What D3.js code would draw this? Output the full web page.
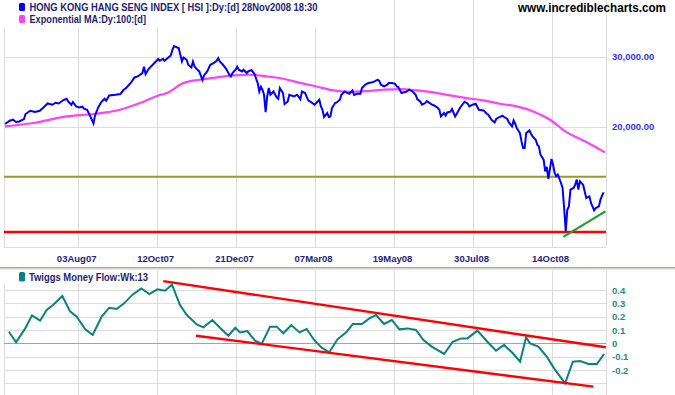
<!DOCTYPE html>
<html><head><meta charset="utf-8">
<script src="https://cdn.jsdelivr.net/npm/d3@7"></script>
<style>body{margin:0;background:#fff;} svg{display:block;font-family:"Liberation Sans",Arial,sans-serif;}</style>
</head><body><svg id="c" width="675" height="395"></svg>
<script>
// ---- data (trading-day index from start of chart) ----
const tickDays = [46, 96, 146, 196, 246, 296, 346];
const tickLabels = ["03Aug07", "12Oct07", "21Dec07", "07Mar08", "19May08", "30Jul08", "14Oct08"];
const priceTicks = [20000, 30000];
const tmfTicks = [-0.2, -0.1, 0, 0.1, 0.2, 0.3, 0.4];
const tmfGrid = [-0.3, -0.2, -0.1, 0.1, 0.2, 0.3, 0.4];

const priceDays = [0,3,5,7,9,12,13,16,19,22,24,27,30,32,34,37,39,40,42,43,45,47,49,50,52,54,56,57,59,61,63,64,66,70,73,75,77,80,82,84,87,88,89,91,94,96,97,98,100,101,103,105,106,107,109,110,111,112,113,115,116,118,119,120,122,123,125,126,128,130,132,134,135,136,138,140,142,143,144,146,147,148,150,151,153,154,156,158,159,160,161,162,163,164,165,166,167,168,170,172,173,174,176,177,179,180,183,185,187,188,190,192,194,196,197,199,200,201,202,204,205,206,207,209,210,212,213,215,216,218,220,221,223,225,226,228,230,232,234,236,237,238,240,242,243,245,247,248,249,251,252,254,256,258,260,261,263,264,266,267,269,270,272,274,275,276,278,279,280,282,283,285,286,288,289,291,293,294,296,298,300,303,305,306,308,310,311,313,315,316,318,319,321,322,323,324,326,327,328,329,330,332,333,334,336,337,338,339,341,342,343,344,345,346,347,348,349,350,352,353,354,355,356,357,358,360,361,362,363,364,366,367,368,370,371,373,374,376,377,378,379];
const priceValues = [20337,20729,20848,20574,20645,20932,21545,21958,21794,21958,22303,22902,22732,22997,22902,23356,23532,23170,22732,23089,22510,22382,22472,22214,22086,21249,20408,21371,22382,23089,23532,23263,23986,24083,24180,24745,25119,25913,26611,26764,27293,28305,27138,27979,28747,29301,29590,29301,29641,29301,29760,30210,31220,31892,31635,31525,30334,29181,29862,29469,28632,28190,29181,28354,27770,27549,26215,26917,27549,28632,28914,29301,29760,29181,28632,27979,27025,26764,27293,27818,28305,27818,27549,27818,27293,27549,27770,27138,26409,25766,24544,25220,24787,24083,21794,23848,25031,24083,24544,23710,23532,25031,24318,22824,23170,24083,23848,24083,23470,24544,24318,23302,23036,22732,22955,23397,22510,22086,21175,21670,21175,21249,22303,22955,23036,23397,24083,24544,24403,24221,24686,24040,24221,24221,25031,25513,25766,25854,26004,26260,26064,25513,25262,25513,25766,25766,25657,25262,25174,24318,24403,24501,24787,24544,24083,23491,23128,22732,22955,23223,22955,22772,22602,22303,22086,21249,21670,21334,21744,21833,22175,21249,21582,22303,22602,23128,22864,22510,22732,22864,22086,21997,21582,21458,20848,20527,20932,21175,21334,21175,20932,20527,20058,20764,20373,19874,19309,18396,17708,17708,19309,19600,19231,18933,18577,18048,17872,17038,16552,15476,15873,14812,15692,16620,16082,15333,15036,15184,14471,14059,12524,10950,12402,12642,13922,14059,14330,14753,13922,14609,14330,13787,13273,13396,12896,12356,12524,12642,13143,13447,13707];

const emaDays = [0,17.9,39.1,55.9,72.8,85.5,97.1,102.4,112.9,123.5,134.1,144.6,155.1,165.7,176.2,186.8,197.4,207.9,218.5,229.1,239.5,250.1,260.7,271.2,281.8,292.3,302.9,313.4,324,334.5,345.1,355.7,366.2,379.9];
const emaValues = [20058,20455,21249,21545,22086,22955,23986,24318,25766,26260,26611,26917,27025,26764,26409,25779,25262,24686,24501,24600,24787,24888,24686,24403,23986,23627,23302,22864,22510,21870,20848,19376,18501,17266];

const resistanceLevel = 15000;
const supportLevel = 10900;
const greenTrendDays = [353.5, 380.1];
const greenTrendValues = [10600, 12286];

const tmfDays = [2.5,7,12.7,17.1,22.2,26.4,30.6,36.3,41.2,45.4,50.7,55.5,61.2,66,70.7,75.4,80.9,86.3,91.4,96.4,101.3,105.7,110.8,115.1,121.4,125.6,131.3,136.1,141.4,145.8,148.8,153.4,158.3,162.5,167.8,172,176.2,181.3,186.4,191,195.7,200.5,205.3,210.5,216.4,220.2,225.9,230.7,234.9,240,244.9,249.7,254.7,260.2,264.9,270.2,278,283.5,288.7,292.7,299.1,305.4,310.9,316,321.5,326.1,329.9,332.4,337.7,343,348.3,354.6,359.5,364.1,369.4,374.7,379.3];
const tmfValues = [0.087,0.008,0.11,0.21,0.17,0.25,0.29,0.355,0.24,0.2,0.107,0.062,0.2,0.267,0.257,0.3,0.367,0.412,0.37,0.405,0.395,0.44,0.287,0.212,0.142,0.12,0.175,0.117,0.057,0.117,0.082,0.092,0.02,-0.005,0.125,0.125,0.075,0.137,0.082,0.107,0.025,-0.033,-0.067,0.03,0.087,0.145,0.145,0.187,0.212,0.145,0.175,0.105,0.112,0.1,0.025,-0.025,-0.08,0.012,0.037,0.037,0.095,0.012,-0.055,-0.012,-0.075,-0.138,0.045,0,-0.025,-0.1,-0.2,-0.3,-0.138,-0.133,-0.155,-0.155,-0.08];

const tmfUpperDays = [100.2, 380.4];
const tmfUpperValues = [0.467, -0.03];
const tmfLowerDays = [120.9, 372.5];
const tmfLowerValues = [0.057, -0.325];

// ---- layout ----
const svg = d3.select("#c");
const L = 4, R = 606;
const mainTop = 0, mainBot = 247;
const lowTop = 270.5, lowBot = 395;
const FONT = '"Liberation Sans", Arial, sans-serif';

const x = d3.scaleLinear().domain([-0.633, 380.5]).range([L, R]);
const y = d3.scaleLog().domain([10000, 35400]).range([mainBot, 28]);
const yL = d3.scaleLinear().domain([-0.3, 0.4]).range([383.3, 290]);

svg.append("rect").attr("width", 675).attr("height", 395).attr("fill", "#fff");

const defs = svg.append("defs");
defs.append("clipPath").attr("id", "cm").append("rect").attr("x", L).attr("y", mainTop).attr("width", R - L).attr("height", mainBot - mainTop);
defs.append("clipPath").attr("id", "cl").append("rect").attr("x", L).attr("y", lowTop).attr("width", R - L).attr("height", lowBot - lowTop);

const GRID = "#dcdcdc";

// ---- main panel grid ----
const gMain = svg.append("g");
gMain.selectAll("line.vg").data([0, ...tickDays]).enter().append("line")
  .attr("x1", (d, i) => i === 0 ? L + 0.5 : Math.round(x(d)) + 0.5)
  .attr("x2", (d, i) => i === 0 ? L + 0.5 : Math.round(x(d)) + 0.5)
  .attr("y1", mainTop).attr("y2", mainBot).attr("stroke", GRID).attr("stroke-width", 1);
gMain.append("line").attr("x1", R + 0.5).attr("x2", R + 0.5).attr("y1", mainTop).attr("y2", mainBot).attr("stroke", GRID);
gMain.selectAll("line.hg").data([10000, ...priceTicks]).enter().append("line")
  .attr("x1", L).attr("x2", R).attr("y1", d => Math.round(y(d)) + 0.5).attr("y2", d => Math.round(y(d)) + 0.5)
  .attr("stroke", GRID).attr("stroke-width", 1);

// ---- lower panel grid ----
const gLow = svg.append("g");
gLow.selectAll("line.vg").data(tickDays).enter().append("line")
  .attr("x1", d => Math.round(x(d)) + 0.5).attr("x2", d => Math.round(x(d)) + 0.5)
  .attr("y1", lowTop).attr("y2", lowBot).attr("stroke", GRID);
gLow.append("line").attr("x1", L + 0.5).attr("x2", L + 0.5).attr("y1", lowTop).attr("y2", lowBot).attr("stroke", GRID);
gLow.append("line").attr("x1", R + 0.5).attr("x2", R + 0.5).attr("y1", lowTop).attr("y2", lowBot).attr("stroke", GRID);
gLow.selectAll("line.hg").data(tmfGrid).enter().append("line")
  .attr("x1", L).attr("x2", R).attr("y1", d => Math.round(yL(d)) + 0.5).attr("y2", d => Math.round(yL(d)) + 0.5)
  .attr("stroke", GRID);
gLow.append("line").attr("x1", L).attr("x2", R).attr("y1", Math.round(yL(0)) + 0.5).attr("y2", Math.round(yL(0)) + 0.5)
  .attr("stroke", "#9c9cd4").attr("stroke-width", 1);

// ---- main panel series ----
const cm = svg.append("g").attr("clip-path", "url(#cm)");
const ema = emaDays.map((d, i) => [d, emaValues[i]]);
cm.append("path").datum(ema).attr("fill", "none").attr("stroke", "#ff40ff").attr("stroke-width", 2.2)
  .attr("d", d3.line().x(d => x(d[0])).y(d => y(d[1])).curve(d3.curveMonotoneX));

cm.append("line").attr("x1", L).attr("x2", R).attr("y1", y(resistanceLevel)).attr("y2", y(resistanceLevel))
  .attr("stroke", "#999933").attr("stroke-width", 2.2);
cm.append("line").attr("x1", L).attr("x2", R).attr("y1", y(supportLevel)).attr("y2", y(supportLevel))
  .attr("stroke", "#ff0000").attr("stroke-width", 2.6);

const price = priceDays.map((d, i) => [d, priceValues[i]]);
cm.append("path").datum(price).attr("fill", "none").attr("stroke", "#0000ff").attr("stroke-width", 2)
  .attr("stroke-linejoin", "miter")
  .attr("d", d3.line().x(d => x(d[0])).y(d => y(d[1])));

const green = greenTrendDays.map((d, i) => [d, greenTrendValues[i]]);
cm.append("path").datum(green).attr("fill", "none").attr("stroke", "#1f9a35").attr("stroke-width", 2.2)
  .attr("d", d3.line().x(d => x(d[0])).y(d => y(d[1])));

// ---- lower panel series ----
const cl = svg.append("g").attr("clip-path", "url(#cl)");
const tmf = tmfDays.map((d, i) => [d, tmfValues[i]]);
cl.append("path").datum(tmf).attr("fill", "none").attr("stroke", "#0a8080").attr("stroke-width", 2)
  .attr("d", d3.line().x(d => x(d[0])).y(d => yL(d[1])));
[[tmfUpperDays, tmfUpperValues], [tmfLowerDays, tmfLowerValues]].forEach(([ds, vs]) => {
  cl.append("path").datum(ds.map((d, i) => [d, vs[i]])).attr("fill", "none").attr("stroke", "#ff0000").attr("stroke-width", 2.4)
    .attr("d", d3.line().x(d => x(d[0])).y(d => yL(d[1])));
});

// ---- legends ----
svg.append("rect").attr("x", 0).attr("y", 0).attr("width", 326).attr("height", 27.5).attr("fill", "#fff");
svg.append("rect").attr("x", 0).attr("y", 270.5).attr("width", 153).attr("height", 13).attr("fill", "#fff");

function legend(yIcon, hIcon, color, text, tx, ty, len) {
  svg.append("rect").attr("x", 19).attr("y", yIcon).attr("width", 6).attr("height", hIcon).attr("rx", 1.5)
    .attr("fill", color);
  svg.append("text").attr("x", tx).attr("y", ty).attr("fill", "#1e1e78").attr("font-size", 10.5)
    .attr("font-weight", "bold").attr("font-family", FONT)
    .attr("textLength", len).attr("lengthAdjust", "spacingAndGlyphs").text(text);
}
legend(3, 8, "#0000ff", "HONG KONG HANG SENG INDEX [ HSI ]:Dy:[d]  28Nov2008 18:30", 29.5, 11, 288);
legend(15, 8, "#ff40ff", "Exponential MA:Dy:100:[d]", 29.5, 22.5, 116.5);
legend(272, 9.5, "#0a8080", "Twiggs Money Flow:Wk:13", 29, 280.5, 119);

svg.append("text").attr("x", 518).attr("y", 12).attr("fill", "#000").attr("font-size", 12.5)
  .attr("font-weight", "bold").attr("font-family", FONT)
  .attr("textLength", 148).attr("lengthAdjust", "spacingAndGlyphs").text("www.incrediblecharts.com");

// ---- axes ----
const xAxis = d3.axisBottom(x).tickValues(tickDays).tickFormat((d, i) => tickLabels[i]).tickSize(0).tickPadding(8);
const gx = svg.append("g").attr("transform", `translate(-1.5,${mainBot})`).call(xAxis);
gx.select(".domain").remove();
gx.selectAll("text").attr("fill", "#24247c").attr("font-size", 9.5).attr("font-weight", "bold").attr("font-family", FONT);

const yAxis = d3.axisRight(y).tickValues(priceTicks).tickFormat(d3.format(",.2f")).tickSize(0).tickPadding(6);
const gy = svg.append("g").attr("transform", `translate(${R},0)`).call(yAxis);
gy.select(".domain").remove();
gy.selectAll("text").attr("fill", "#3333ee").attr("font-size", 9.5).attr("font-weight", "bold").attr("font-family", FONT);

const yAxisL = d3.axisRight(yL).tickValues(tmfTicks)
  .tickFormat(d => d === 0 ? "0" : String(Math.round(d * 10) / 10)).tickSize(0).tickPadding(6);
const gyl = svg.append("g").attr("transform", `translate(${R},0)`).call(yAxisL);
gyl.select(".domain").remove();
gyl.selectAll("text").attr("fill", "#23899a").attr("font-size", 9.5).attr("font-weight", "bold").attr("font-family", FONT);

// ---- panel separator ----
svg.append("rect").attr("x", 0).attr("y", 267).attr("width", 675).attr("height", 1.6).attr("fill", "#aca897");
svg.append("rect").attr("x", 0).attr("y", 268.6).attr("width", 675).attr("height", 1.2).attr("fill", "#e6e2d6");
</script>
</body></html>
